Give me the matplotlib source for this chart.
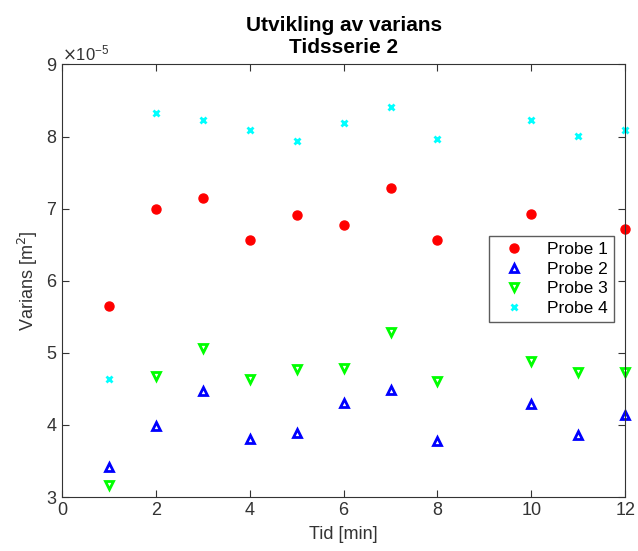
import matplotlib
matplotlib.use('Agg')
import matplotlib.pyplot as plt
from matplotlib.ticker import ScalarFormatter

plt.rcParams['font.family'] = ['Liberation Sans', 'DejaVu Sans']

tid = [1, 2, 3, 4, 5, 6, 7, 8, 10, 11, 12]
probe1 = [5.65, 7.00, 7.15, 6.56, 6.91, 6.77, 7.28, 6.56, 6.92, 6.72]
probe1_t = [1, 2, 3, 4, 5, 6, 7, 8, 10, 12]
probe2 = [3.42, 3.98, 4.47, 3.81, 3.89, 4.31, 4.48, 3.78, 4.29, 3.86, 4.14]
probe3 = [3.17, 4.68, 5.07, 4.64, 4.78, 4.79, 5.29, 4.61, 4.88, 4.74, 4.74]
probe4 = [4.64, 8.32, 8.23, 8.09, 7.94, 8.19, 8.41, 7.96, 8.23, 8.01, 8.09]
scale = 1e-5

fig = plt.figure(figsize=(6.38, 5.51), dpi=100)
ax = fig.add_axes([0.097, 0.098, 0.883, 0.785])

ax.plot(probe1_t, [v * scale for v in probe1], 'o', color='#ff0000', ms=6.5, mec='#ff0000', label='Probe 1', clip_on=False)
ax.plot(tid, [v * scale for v in probe2], '^', color='#0000ff', ms=5.8, mfc='white', mew=2, label='Probe 2', clip_on=False)
ax.plot(tid, [v * scale for v in probe3], 'v', color='#00ff00', ms=5.8, mfc='white', mew=2, label='Probe 3', clip_on=False)
ax.plot(tid, [v * scale for v in probe4], 'x', color='#00ffff', ms=4.5, mew=2, label='Probe 4', clip_on=False)

ax.set_xlim(0, 12)
ax.set_ylim(3e-5, 9e-5)
ax.set_xticks(range(0, 13, 2))
ax.set_yticks([v * scale for v in range(3, 10)])
fmt = ScalarFormatter(useMathText=True)
fmt.set_powerlimits((0, 0))
ax.yaxis.set_major_formatter(fmt)
ax.yaxis.get_offset_text().set_fontsize(12)
ax.yaxis.get_offset_text().set_color('#333333')

ax.tick_params(direction='in', top=True, right=True, labelsize=13, colors='#333333', length=5)
for s in ax.spines.values():
    s.set_color('#333333')

ax.set_xlabel('Tid [min]', fontsize=13, color='#333333', labelpad=5)
ax.set_ylabel('Varians [m$^2$]', fontsize=13, color='#333333', labelpad=4)
ax.set_title('Utvikling av varians\nTidsserie 2', fontsize=15, fontweight='bold', linespacing=1.2, pad=8)

leg = ax.legend(loc='upper left', bbox_to_anchor=(0.758, 0.603), fontsize=12.5, frameon=True,
                fancybox=False, edgecolor='#333333', borderpad=0.35, handletextpad=0.8,
                labelspacing=0.25, handlelength=2.2, borderaxespad=0)
leg.get_frame().set_linewidth(1.0)

fig.savefig('out.png', dpi=100)
